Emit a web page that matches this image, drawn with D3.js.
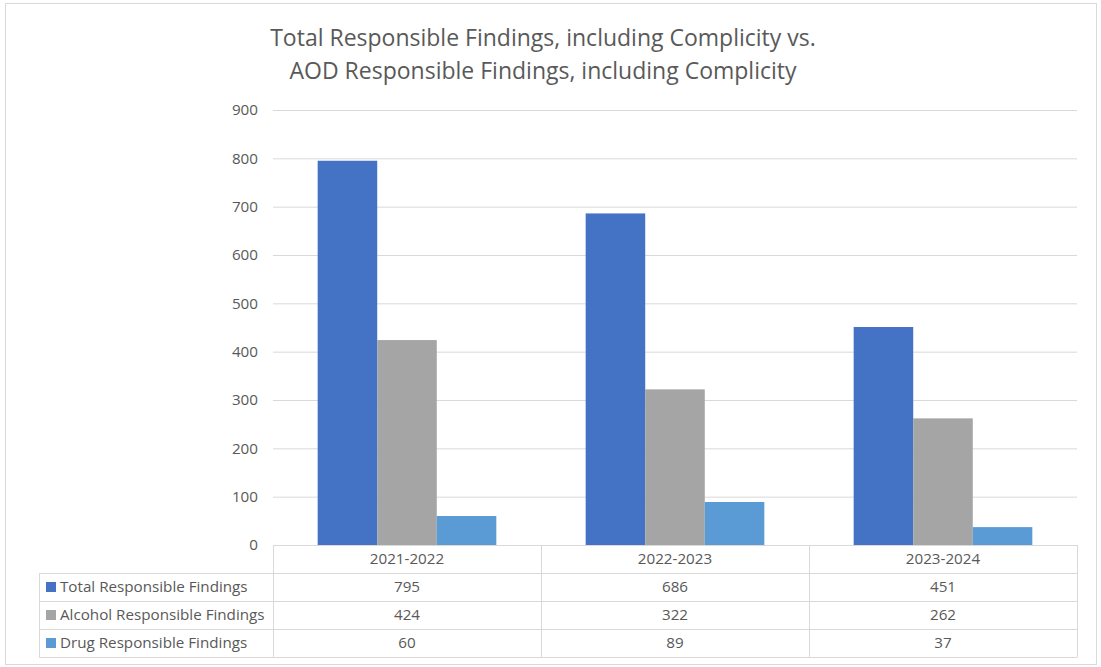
<!DOCTYPE html>
<html>
<head>
<meta charset="utf-8">
<script src="https://cdn.jsdelivr.net/npm/d3@7"></script>
<style>
  body { margin: 0; background: #fff; }
  svg text { font-family: "Open Sans", sans-serif; fill: #595959; }
</style>
</head>
<body>
<div id="wrapper"></div>
<script>
// data
const years = ['2021-2022', '2022-2023', '2023-2024'];
const seriesNames = ['Total Responsible Findings', 'Alcohol Responsible Findings', 'Drug Responsible Findings'];
const totalVals = [795, 686, 451];
const alcoholVals = [424, 322, 262];
const drugVals = [60, 89, 37];
const yTicks = [0, 100, 200, 300, 400, 500, 600, 700, 800, 900];
const titleLines = ['Total Responsible Findings, including Complicity vs.', 'AOD Responsible Findings, including Complicity'];

const colors = ['#4472C4', '#A5A5A5', '#5B9BD5'];
const seriesVals = [totalVals, alcoholVals, drugVals];

// dimensions
const dims = {
  width: 1101,
  height: 667,
  plotLeft: 273,
  plotRight: 1077,
  plotTop: 110,
  plotBottom: 545,
  tableLeft: 39,
  rowH: 28
};
const fontSize = '15.2px';

const svg = d3.select('#wrapper').append('svg')
  .attr('width', dims.width)
  .attr('height', dims.height);

// outer frame
svg.append('rect')
  .attr('x', 5.5).attr('y', 3.5)
  .attr('width', 1091).attr('height', 661)
  .attr('fill', '#fff')
  .attr('stroke', '#d9d9d9');

// title
svg.append('g').selectAll('text')
  .data(titleLines)
  .join('text')
  .attr('x', 543)
  .attr('y', (d, i) => 46 + i * 33)
  .attr('text-anchor', 'middle')
  .style('font-size', '23px')
  .text(d => d);

// scales
const xScale = d3.scaleBand()
  .domain(years)
  .range([dims.plotLeft, dims.plotRight]);

const xInner = d3.scaleBand()
  .domain(seriesNames)
  .range([0, xScale.bandwidth()])
  .paddingOuter(0.75);

const yScale = d3.scaleLinear()
  .domain([0, 900])
  .range([dims.plotBottom, dims.plotTop]);

// gridlines + y labels
const yAxisGenerator = d3.axisLeft(yScale)
  .tickValues(yTicks)
  .tickSize(-(dims.plotRight - dims.plotLeft))
  .tickPadding(15)
  .tickFormat(d3.format('d'));

const yAxis = svg.append('g')
  .attr('transform', `translate(${dims.plotLeft},0)`)
  .call(yAxisGenerator);
yAxis.select('.domain').remove();
yAxis.selectAll('.tick line').attr('stroke', '#d9d9d9');
yAxis.selectAll('.tick text')
  .style('font-size', fontSize)
  .attr('fill', '#595959');

// bars
const groups = svg.append('g').selectAll('g')
  .data(years)
  .join('g')
  .attr('transform', d => `translate(${xScale(d)},0)`);

groups.selectAll('rect')
  .data((d, i) => seriesNames.map((s, j) => ({ s, j, v: seriesVals[j][i] })))
  .join('rect')
  .attr('x', d => xInner(d.s))
  .attr('width', xInner.bandwidth())
  .attr('y', d => yScale(d.v))
  .attr('height', d => yScale(0) - yScale(d.v))
  .attr('fill', d => colors[d.j]);

// data table
const table = svg.append('g');
const gridColor = '#d9d9d9';
const top0 = dims.plotBottom;
const rowY = i => top0 + dims.rowH * (i + 1); // top of series row i
const tableBottom = rowY(seriesNames.length);

// horizontal lines
table.append('line')
  .attr('x1', dims.plotLeft).attr('x2', dims.plotRight)
  .attr('y1', top0 + 0.5).attr('y2', top0 + 0.5)
  .attr('stroke', gridColor);
for (let i = 0; i <= seriesNames.length; i++) {
  table.append('line')
    .attr('x1', dims.tableLeft).attr('x2', dims.plotRight)
    .attr('y1', rowY(i) + 0.5).attr('y2', rowY(i) + 0.5)
    .attr('stroke', gridColor);
}
// vertical lines
table.append('line')
  .attr('x1', dims.tableLeft + 0.5).attr('x2', dims.tableLeft + 0.5)
  .attr('y1', rowY(0)).attr('y2', tableBottom)
  .attr('stroke', gridColor);
years.forEach(y => {
  table.append('line')
    .attr('x1', xScale(y) + 0.5).attr('x2', xScale(y) + 0.5)
    .attr('y1', top0).attr('y2', tableBottom)
    .attr('stroke', gridColor);
});
table.append('line')
  .attr('x1', dims.plotRight + 0.5).attr('x2', dims.plotRight + 0.5)
  .attr('y1', top0).attr('y2', tableBottom + 0.5)
  .attr('stroke', gridColor);

// header labels
table.selectAll('.hdr')
  .data(years)
  .join('text')
  .attr('class', 'hdr')
  .attr('x', d => xScale(d) + xScale.bandwidth() / 2)
  .attr('y', top0 + dims.rowH / 2 + 5)
  .attr('text-anchor', 'middle')
  .style('font-size', fontSize)
  .text(d => d);

// row labels with legend keys
seriesNames.forEach((s, i) => {
  const cy = rowY(i) + dims.rowH / 2;
  table.append('rect')
    .attr('x', 46).attr('y', cy - 5)
    .attr('width', 10).attr('height', 10)
    .attr('fill', colors[i]);
  table.append('text')
    .attr('x', 60).attr('y', cy + 5)
    .style('font-size', fontSize)
    .text(s);
  years.forEach((y, k) => {
    table.append('text')
      .attr('x', xScale(y) + xScale.bandwidth() / 2)
      .attr('y', cy + 5)
      .attr('text-anchor', 'middle')
      .style('font-size', fontSize)
      .text(seriesVals[i][k]);
  });
});
</script>
</body>
</html>
